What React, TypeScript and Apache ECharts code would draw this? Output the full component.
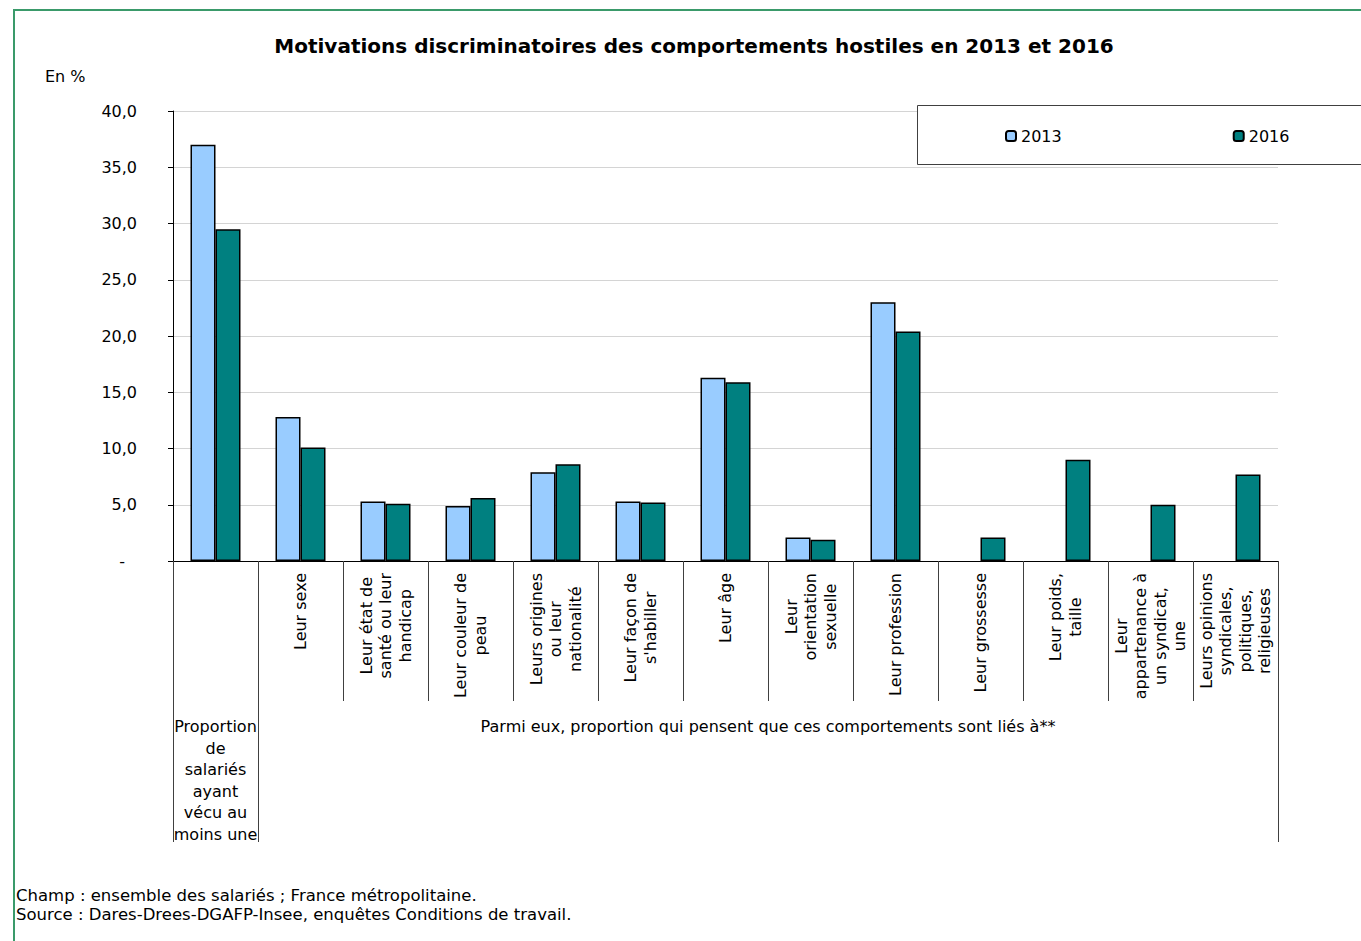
import React, { useEffect, useRef } from "react";
import * as echarts from "echarts";

const FONT = "DejaVu Sans";

const categories = [
  "Proportion de salariés ayant vécu au moins une",
  "Leur sexe",
  "Leur état de\nsanté ou leur\nhandicap",
  "Leur couleur de\npeau",
  "Leurs origines\nou leur\nnationalité",
  "Leur façon de\ns'habiller",
  "Leur âge",
  "Leur\norientation\nsexuelle",
  "Leur profession",
  "Leur grossesse",
  "Leur poids,\ntaille",
  "Leur\nappartenance à\nun syndicat,\nune",
  "Leurs opinions\nsyndicales,\npolitiques,\nreligieuses",
];

const groupLabels = [
  "Proportion\nde\nsalariés\nayant\nvécu au\nmoins une",
  "Parmi eux, proportion qui pensent que ces comportements sont liés à**",
];
// group boundaries in category units and label centres
const groupBounds = [0, 1, 13];
const groupCenters = [0.5, 7];

const values2013 = [37.0, 12.8, 5.3, 4.9, 7.9, 5.3, 16.3, 2.1, 23.0, null, null, null, null];
const values2016 = [29.5, 10.1, 5.1, 5.6, 8.6, 5.2, 15.9, 1.9, 20.4, 2.1, 9.0, 5.0, 7.7];

const seriesNames = ["2013", "2016"];
const seriesColors = ["#99CCFF", "#008080"];

const yTicks = { min: 0, max: 40, interval: 5 };

const title = "Motivations discriminatoires des comportements hostiles en 2013 et 2016";
const unitLabel = "En %";
const notes = [
  "Champ : ensemble des salariés ; France métropolitaine.",
  "Source : Dares-Drees-DGAFP-Insee, enquêtes Conditions de travail.",
];

export default function App() {
  const ref = useRef<HTMLDivElement>(null);

  useEffect(() => {
    if (!ref.current) return;
    const chart = echarts.init(ref.current, null, { renderer: "svg" });
    const lineCol = "#404040";
    chart.setOption({
      animation: false,
      backgroundColor: "#ffffff",
      textStyle: { fontFamily: FONT },
      grid: { left: 173, right: 83, top: 111, bottom: 380, containLabel: false },
      legend: {
        data: seriesNames,
        left: 1005,
        top: 128,
        padding: 0,
        itemWidth: 10,
        itemHeight: 10,
        itemGap: 171,
        textStyle: { fontFamily: FONT, fontSize: 16, color: "#000" },
        z: 6,
      },
      xAxis: [
        {
          type: "category",
          data: categories,
          position: "bottom",
          axisLine: { show: true, lineStyle: { color: "#000", width: 1 } },
          axisTick: { show: true, interval: 0, length: 140, lineStyle: { color: lineCol, width: 1 } },
          axisLabel: {
            interval: 0,
            rotate: 90,
            margin: 12,
            formatter: (v: string, i: number) =>
              i === 0 ? "" : v.split("\n").map((l) => `{c|${l}}`).join("\n"),
            rich: {
              c: { align: "center", fontSize: 16, lineHeight: 19.5, fontFamily: FONT, color: "#000" },
            },
          },
          splitLine: { show: false },
        },
        {
          type: "value",
          min: 0,
          max: 13,
          position: "bottom",
          axisLine: { show: false },
          splitLine: { show: false },
          axisTick: {
            show: true,
            customValues: groupBounds,
            length: 281,
            lineStyle: { color: lineCol, width: 1 },
          },
          axisLabel: {
            customValues: groupCenters,
            margin: 155,
            verticalAlign: "top",
            align: "center",
            lineHeight: 21.5,
            fontSize: 16,
            fontFamily: FONT,
            color: "#000",
            formatter: (v: number) => groupLabels[groupCenters.indexOf(v)] ?? "",
          },
        },
      ],
      yAxis: {
        type: "value",
        min: yTicks.min,
        max: yTicks.max,
        interval: yTicks.interval,
        axisLine: { show: true, lineStyle: { color: "#000", width: 1 } },
        axisTick: { show: true, length: 5, lineStyle: { color: "#000" } },
        splitLine: { show: true, lineStyle: { color: "#d4d4d4", width: 1 } },
        axisLabel: {
          margin: 36,
          fontSize: 16,
          fontFamily: FONT,
          color: "#000",
          formatter: (v: number) => (v === 0 ? "{d|-}" : v.toFixed(1).replace(".", ",")),
          rich: { d: { padding: [0, 12, 0, 0], fontSize: 16, fontFamily: FONT, color: "#000" } },
        },
      },
      series: seriesNames.map((name, k) => ({
        name,
        type: "bar",
        xAxisIndex: 0,
        data: k === 0 ? values2013 : values2016,
        barWidth: 25,
        barGap: "0%",
        itemStyle: { color: seriesColors[k], borderColor: "#000", borderWidth: 1.5 },
      })),
      graphic: [
        {
          type: "rect",
          z: 1,
          shape: { x: 14, y: 10, width: 1400, height: 1000 },
          style: { fill: "none", stroke: "#3A9A6A", lineWidth: 2 },
          silent: true,
        },
        {
          type: "rect",
          z: 5,
          shape: { x: 917.5, y: 105.5, width: 480, height: 59 },
          style: { fill: "#fff", stroke: lineCol, lineWidth: 1 },
          silent: true,
        },
        {
          type: "text",
          z: 5,
          x: 694,
          y: 46,
          style: {
            text: title,
            fontFamily: FONT,
            fontWeight: "bold",
            fontSize: 20,
            fill: "#000",
            align: "center",
            verticalAlign: "middle",
          },
        },
        {
          type: "text",
          z: 5,
          x: 45,
          y: 76,
          style: { text: unitLabel, fontFamily: FONT, fontSize: 16, fill: "#000", verticalAlign: "middle" },
        },
        ...notes.map((t, i) => ({
          type: "text",
          z: 5,
          x: 16,
          y: 895 + i * 19,
          style: { text: t, fontFamily: FONT, fontSize: 16.5, fill: "#000", verticalAlign: "middle" },
        })),
      ],
    });
    return () => chart.dispose();
  }, []);

  return (
    <div
      ref={ref}
      style={{ position: "fixed", left: 0, top: 0, width: 1361, height: 941, background: "#fff" }}
    />
  );
}
